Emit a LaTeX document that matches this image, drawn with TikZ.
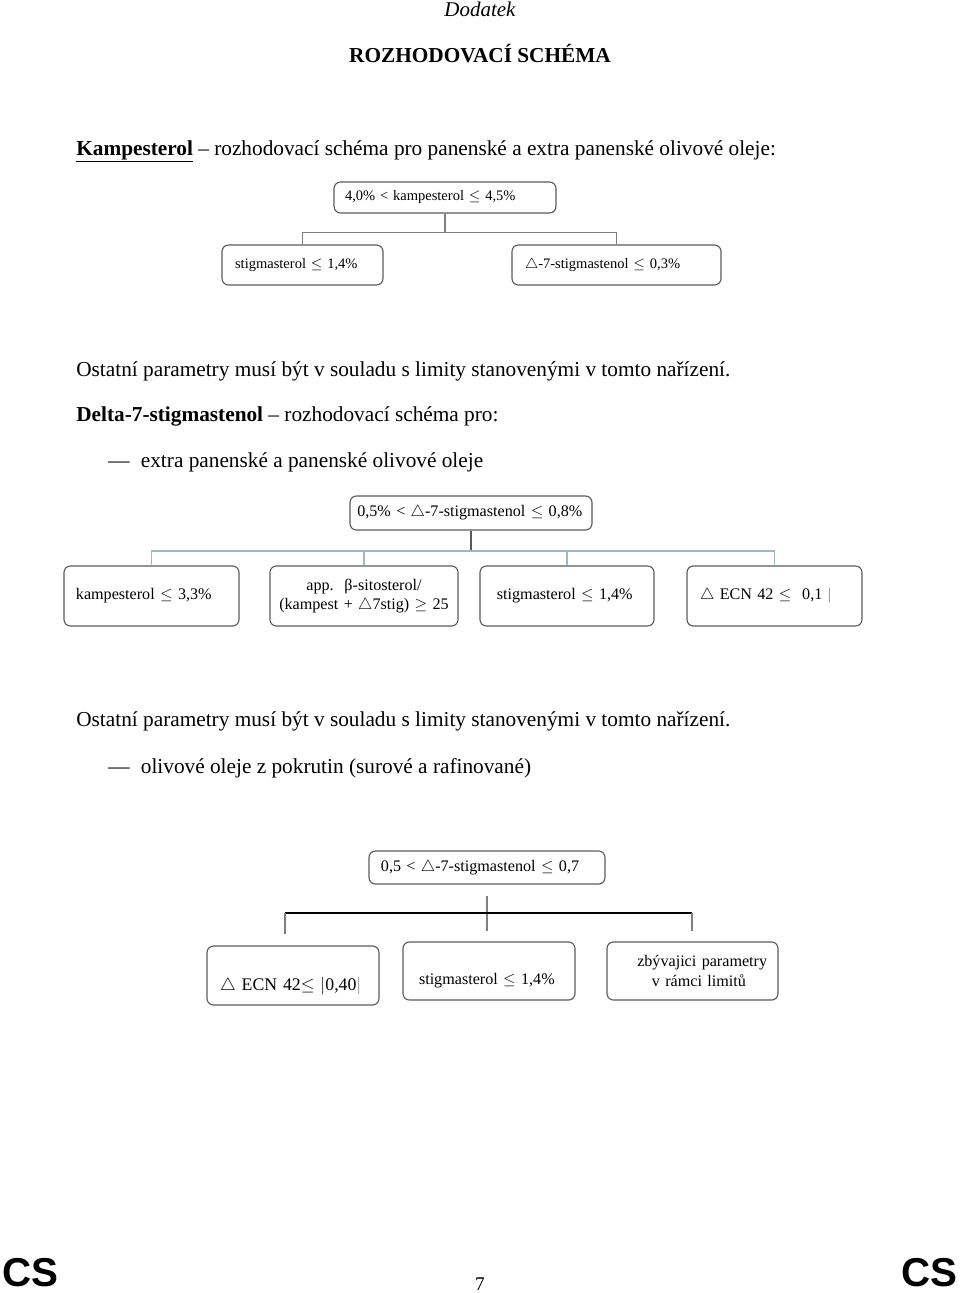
\documentclass[tikz,border=0pt]{standalone}
\usepackage{fontspec}
\setmainfont{Liberation Serif}
\newfontfamily\csfont{Liberation Sans}
\usetikzlibrary{calc, positioning}

\definecolor{boxgray}{HTML}{5A5A5A}
\definecolor{linkgray}{HTML}{7F7F7F}
\definecolor{linkblue}{HTML}{A3B6C7}

\begin{document}
\begin{tikzpicture}[x=0.62pt, y=-0.62pt,
    crit/.style={draw=boxgray, line width=0.7pt, rounded corners=4pt, align=left, inner ysep=0pt},
    txt/.style={anchor=base west, inner sep=0pt, font=\fontsize{13.2}{15}\selectfont},
    linkA/.style={draw=linkgray, line width=0.7pt},
    linkB/.style={draw=linkblue, line width=0.9pt},
    linkC/.style={draw=linkgray, line width=0.9pt}]
    \useasboundingbox (0,0) rectangle (960,1293);

    % header
    \node[inner sep=0pt, anchor=base, font=\fontsize{13}{15}\selectfont\itshape] (dodatek) at (480,16) {Dodatek};
    \node[inner sep=0pt, anchor=base, font=\fontsize{13.2}{15}\selectfont\bfseries] (title) at (480,62) {ROZHODOVACÍ SCHÉMA};

    % Kampesterol
    \node[txt] (kamp) at (76,155) {\textbf{\underline{Kampesterol}} -- rozhodovací schéma pro panenské a extra panenské olivové oleje:};
    \begin{scope}[font=\fontsize{9}{11}\selectfont]
        \node[crit, text width=124pt, inner xsep=6.8pt, minimum height=19.2pt] (a0) at (445,197.5) {4,0\% < kampesterol $\leq$ 4,5\%};
        \node[crit, text width=83.6pt, inner xsep=8.1pt, minimum height=24.8pt] (a1) at (302.5,265) {stigmasterol $\leq$ 1,4\%};
        \node[crit, text width=113.4pt, inner xsep=8.1pt, minimum height=24.8pt] (a2) at (616.5,265) {$\triangle$-7-stigmastenol $\leq$ 0,3\%};
    \end{scope}
    \draw[linkA] (a0.south) -- ++(0,19) -| (a1.north);
    \draw[linkA] (a0.south) -- ++(0,19) -| (a2.north);

    \node[txt] (ostatni1) at (76,376) {Ostatní parametry musí být v souladu s limity stanovenými v tomto nařízení.};

    % Delta-7-stigmastenol
    \node[txt] (delta) at (76,421) {\textbf{Delta-7-stigmastenol} -- rozhodovací schéma pro:};
    \node[txt] (extra) at (108,467) {---\hspace{7pt}extra panenské a panenské olivové oleje};
    \begin{scope}[font=\fontsize{10}{12}\selectfont]
        \node[crit, text width=141pt, inner xsep=4.5pt, minimum height=21.1pt] (b0) at (471,513) {0,5\% < $\triangle$-7-stigmastenol $\leq$ 0,8\%};
        \node[crit, text width=93.7pt, inner xsep=7.4pt, minimum height=37.2pt] (b1) at (151.5,596) {kampesterol $\leq$ 3,3\%};
        \node[crit, text width=106.6pt, inner xsep=5pt, minimum height=37.2pt, align=center] (b2) at (364,596) {app.\ \ β-sitosterol/\\(kampest + $\triangle$7stig) $\geq$ 25};
        \node[crit, text width=86.9pt, inner xsep=10.5pt, minimum height=37.2pt] (b3) at (567,596) {stigmasterol $\leq$ 1,4\%};
        \node[crit, text width=92.3pt, inner xsep=8.1pt, minimum height=37.2pt] (b4) at (774.5,596) {$\triangle$ ECN 42 $\leq$\ \ 0,1 {\color{linkgray}|}};
    \end{scope}
    \coordinate (bbus) at (471,551);
    \draw[boxgray, line width=0.7pt] (b0.south) -- (bbus);
    \foreach \k in {1,...,4}
        \draw[linkB] (bbus) -| (b\k.north);

    \node[txt] (ostatni2) at (76,726) {Ostatní parametry musí být v souladu s limity stanovenými v tomto nařízení.};
    \node[txt] (pokrutin) at (108,773) {---\hspace{7pt}olivové oleje z pokrutin (surové a rafinované)};

    % pokrutin scheme
    \begin{scope}[font=\fontsize{10}{12}\selectfont]
        \node[crit, text width=131.5pt, inner xsep=7.4pt, minimum height=20.5pt] (c0) at (487,867.5) {0,5 < $\triangle$-7-stigmastenol $\leq$ 0,7};
        \node[crit, text width=90.4pt, inner xsep=8.1pt, minimum height=36.6pt, text height=20pt, text depth=2pt, font=\fontsize{11}{13}\selectfont] (c1) at (293,975.5) {$\triangle$ ECN 42$\leq$ $|$0,40{\color{linkgray}$|$}};
        \node[crit, text width=86.8pt, inner xsep=9.9pt, minimum height=36pt, text height=19pt, text depth=2pt] (c2) at (489,971) {stigmasterol $\leq$ 1,4\%};
        \node[crit, text width=96pt, inner xsep=5pt, minimum height=36pt, align=center] (c3) at (692.5,971) {\hspace{12pt}zbývajici parametry\\\hspace{8pt}v rámci limitů};
    \end{scope}
    \coordinate (ctop) at (487,896);
    \coordinate (cl) at (285,913);
    \coordinate (cr) at (692,913);
    \draw[linkC] (ctop) -- ++(0,35);
    \draw[black, line width=0.8pt] (cl) -- (cr);
    \draw[linkC] (cl) -- ++(0,21);
    \draw[linkC] (cr) -- ++(0,18);

    % footer
    \node[inner sep=0pt, anchor=base west, font=\csfont\bfseries\fontsize{25}{27}\selectfont] (csl) at (2,1286) {CS};
    \node[inner sep=0pt, anchor=base east, font=\csfont\bfseries\fontsize{25}{27}\selectfont] (csr) at (958,1286) {CS};
    \node[inner sep=0pt, anchor=base, font=\fontsize{12}{14}\selectfont] (pagenum) at (480,1290) {7};
\end{tikzpicture}
\end{document}
